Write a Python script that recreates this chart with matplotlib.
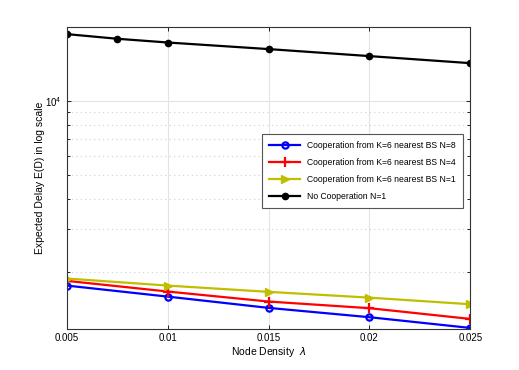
import matplotlib
matplotlib.use('Agg')
import matplotlib.pyplot as plt
from matplotlib.ticker import LogLocator, NullFormatter, FixedLocator

plt.rcParams['font.family'] = ['Liberation Sans', 'DejaVu Sans']

# node density values
lam = [0.005, 0.01, 0.015, 0.02, 0.025]
lam_nc = [0.005, 0.0075, 0.01, 0.015, 0.02, 0.025]

# expected delay
coop_n8 = [1767, 1593, 1433, 1313, 1187]
coop_n4 = [1847, 1671, 1521, 1429, 1292]
coop_n1 = [1888, 1767, 1666, 1578, 1483]
no_coop = [18770, 17970, 17350, 16310, 15270, 14290]

labels = ['Cooperation from K=6 nearest BS N=8',
          'Cooperation from K=6 nearest BS N=4',
          'Cooperation from K=6 nearest BS N=1',
          'No Cooperation N=1']

fig = plt.figure(figsize=(5.19, 3.70), dpi=100)
ax = fig.add_axes([0.129, 0.112, 0.777, 0.814])

ax.plot(lam, coop_n8, color='#0000ff', lw=1.6, marker='o', ms=4.5,
        mfc='none', mew=1.6, label=labels[0])
ax.plot(lam, coop_n4, color='#ff0000', lw=1.6, marker='+', ms=7,
        mew=1.6, label=labels[1])
ax.plot(lam, coop_n1, color='#bfbf00', lw=1.6, marker='>', ms=6,
        label=labels[2])
ax.plot(lam_nc, no_coop, color='black', lw=1.6, marker='o', ms=4.5,
        label=labels[3])

ax.set_yscale('log')
ax.set_xlim(0.005, 0.025)
ax.set_ylim(1180, 20000)
ax.xaxis.set_major_locator(FixedLocator(lam))
ax.set_xticklabels(['0.005', '0.01', '0.015', '0.02', '0.025'])
ax.yaxis.set_major_locator(LogLocator(base=10))
ax.yaxis.set_minor_locator(LogLocator(base=10, subs=range(2, 10)))
ax.yaxis.set_minor_formatter(NullFormatter())

ax.grid(True, which='major', color='#e3e3e3', lw=0.8, ls='-')
ax.grid(True, which='minor', axis='y', color='#d0d0d0', lw=0.8, ls=(0, (1, 3)))
ax.set_axisbelow(True)

ax.tick_params(which='both', direction='in', top=True, right=True,
               labelsize=7, length=3, width=0.6)
ax.tick_params(which='minor', length=2)
for s in ax.spines.values():
    s.set_linewidth(0.8)
    s.set_color('#333333')

ax.set_xlabel(r'Node Density  $\lambda$', fontsize=7.5, labelpad=1)
ax.set_ylabel('Expected Delay E(D) in log scale', fontsize=7.5, labelpad=0)

leg = ax.legend(loc='upper left', bbox_to_anchor=(0.474, 0.661), fontsize=6.2,
                fancybox=False, framealpha=1, edgecolor='#555555',
                handlelength=3.6, borderpad=0.8, labelspacing=0.95)
leg.get_frame().set_linewidth(0.8)

fig.savefig('out.png', dpi=100)
